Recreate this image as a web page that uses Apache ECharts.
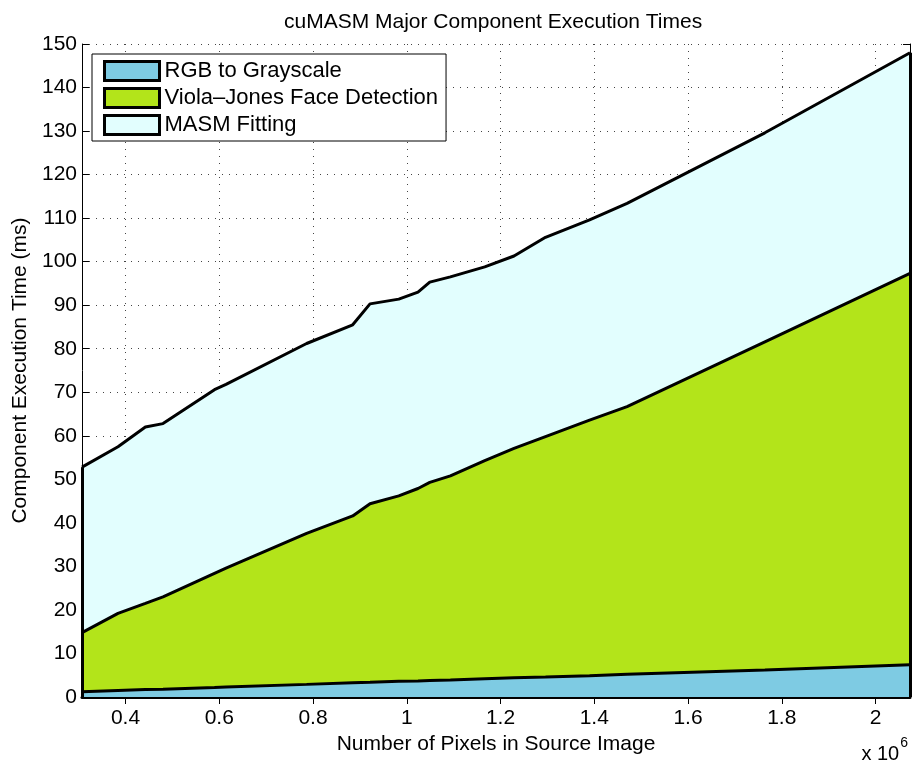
<!DOCTYPE html>
<html>
<head>
<meta charset="utf-8">
<title>cuMASM Major Component Execution Times</title>
<script src="https://cdn.jsdelivr.net/npm/echarts@6/dist/echarts.min.js"></script>
<style>
  html, body { margin: 0; padding: 0; background: #fff; }
  #main { width: 914px; height: 762px; }
</style>
</head>
<body>
<div id="main"></div>
<script>
// image sizes (pixels, x 10^6)
var pixelCounts = [0.3072, 0.384, 0.4424, 0.48, 0.5898, 0.6144, 0.7864, 0.8847, 0.9216, 0.983,
                   1.024, 1.0491, 1.0931, 1.1664, 1.2288, 1.296, 1.39, 1.47, 1.764, 2.0736];
// component times (ms)
var rgbTimes  = [1.2, 1.5, 1.7, 1.8, 2.2, 2.3, 2.9, 3.3, 3.4, 3.6,
                 3.7, 3.8, 3.9, 4.2, 4.4, 4.6, 4.9, 5.2, 6.2, 7.4];
var vjTimes   = [13.6, 17.7, 19.8, 21.2, 26.2, 27.3, 34.7, 38.3, 41.0, 42.6,
                 44.2, 45.5, 46.9, 50.1, 52.7, 55.2, 58.7, 61.5, 75.4, 89.9];
var masmTimes = [38.0, 38.3, 40.5, 39.8, 42.2, 42.2, 43.6, 43.9, 45.9, 45.2,
                 45.1, 46.0, 45.7, 44.5, 44.2, 45.8, 46.0, 46.7, 48.0, 50.7];
var xTicks = [0.4, 0.6, 0.8, 1, 1.2, 1.4, 1.6, 1.8, 2];
var seriesNames = ['RGB to Grayscale', 'Viola\u2013Jones Face Detection', 'MASM Fitting'];
var seriesColors = ['#7ecbe3', '#b3e41a', '#e2fefe'];

var FONT = "'Liberation Sans', Arial, Helvetica, sans-serif";

// stacked boundaries
var lvl1 = [], lvl2 = [], lvl3 = [];
for (var i = 0; i < pixelCounts.length; i++) {
  lvl1.push([pixelCounts[i], rgbTimes[i]]);
  lvl2.push([pixelCounts[i], rgbTimes[i] + vjTimes[i]]);
  lvl3.push([pixelCounts[i], rgbTimes[i] + vjTimes[i] + masmTimes[i]]);
}
var xMin = pixelCounts[0], xMax = pixelCounts[pixelCounts.length - 1];
var last = lvl3.length - 1;

function areaSeries(name, color, data, extra) {
  var s = {
    name: name,
    type: 'line',
    data: data,
    color: color,
    showSymbol: false,
    symbol: 'none',
    lineStyle: { color: '#000', width: 3 },
    areaStyle: { color: color, opacity: 1 },
    animation: false
  };
  if (extra) for (var k in extra) s[k] = extra[k];
  return s;
}

var myChart = echarts.init(document.getElementById('main'));
var option = {
  backgroundColor: '#fff',
  animation: false,
  grid: { left: 82, right: 4, top: 44, bottom: 65, containLabel: false },
  graphic: [
    {
      type: 'text', left: 499 - 215, top: 12,
      style: { text: 'cuMASM Major Component Execution Times', font: '21px ' + FONT, fill: '#000' }
    },
    {
      type: 'text', right: 6, top: 736,
      style: {
        text: '{b|x 10}{s|6}', fill: '#000',
        rich: {
          b: { font: '20px ' + FONT, fill: '#000', verticalAlign: 'bottom', padding: [8, 0, 0, 0] },
          s: { font: '14px ' + FONT, fill: '#000', verticalAlign: 'top', padding: [0, 0, 10, 1] }
        }
      }
    }
  ],
  legend: {
    left: 92, top: 54,
    orient: 'vertical',
    data: seriesNames,
    icon: 'rect',
    itemWidth: 55, itemHeight: 19, itemGap: 5,
    padding: [6, 8, 5, 11],
    backgroundColor: '#fff',
    borderColor: '#000', borderWidth: 1,
    itemStyle: { borderColor: '#000', borderWidth: 3 },
    textStyle: { fontFamily: FONT, fontSize: 22, color: '#000' },
    selectedMode: false
  },
  xAxis: [
    {
      type: 'value', min: xMin, max: xMax,
      name: 'Number of Pixels in Source Image',
      nameLocation: 'middle', nameGap: 37,
      nameTextStyle: { fontFamily: FONT, fontSize: 21, color: '#000' },
      axisLine: { show: true, lineStyle: { color: '#000', width: 3 } },
      axisTick: { show: true, inside: true, length: 7, customValues: xTicks, lineStyle: { color: '#000' } },
      axisLabel: { customValues: xTicks, fontFamily: FONT, fontSize: 21, color: '#000', margin: 11 },
      splitLine: { show: true, lineStyle: { color: '#444', type: [1, 6], width: 1 } }
    },
    {
      type: 'value', min: xMin, max: xMax, position: 'top',
      axisLine: { show: true, lineStyle: { color: '#000', width: 1 } },
      axisTick: { show: true, inside: true, length: 7, customValues: xTicks, lineStyle: { color: '#000' } },
      axisLabel: { show: false },
      splitLine: { show: false }
    }
  ],
  yAxis: [
    {
      type: 'value', min: 0, max: 150, interval: 10,
      name: 'Component Execution Time (ms)',
      nameLocation: 'middle', nameGap: 50,
      nameTextStyle: { fontFamily: FONT, fontSize: 21, color: '#000' },
      axisLine: { show: true, lineStyle: { color: '#000', width: 1 } },
      axisTick: { show: true, inside: true, length: 7, lineStyle: { color: '#000' } },
      axisLabel: { fontFamily: FONT, fontSize: 21, color: '#000', margin: 5 },
      splitLine: { show: true, lineStyle: { color: '#444', type: [1, 6], width: 1 } }
    },
    {
      type: 'value', min: 0, max: 150, interval: 10, position: 'right',
      axisLine: { show: true, lineStyle: { color: '#000', width: 1 } },
      axisTick: { show: true, inside: true, length: 7, lineStyle: { color: '#000' } },
      axisLabel: { show: false },
      splitLine: { show: false }
    }
  ],
  series: [
    // drawn back to front: total first, then VJ boundary, then RGB
    areaSeries(seriesNames[2], seriesColors[2], lvl3, {
      markLine: {
        silent: true, symbol: 'none', label: { show: false },
        lineStyle: { color: '#000', width: 3, type: 'solid' },
        data: [
          [{ coord: [xMin, 0] }, { coord: [xMin, lvl3[0][1]] }],
          [{ coord: [xMax, 0] }, { coord: [xMax, lvl3[last][1]] }]
        ]
      }
    }),
    areaSeries(seriesNames[1], seriesColors[1], lvl2),
    areaSeries(seriesNames[0], seriesColors[0], lvl1)
  ]
};
myChart.setOption(option);
window.onresize = myChart.resize;
</script>
</body>
</html>
